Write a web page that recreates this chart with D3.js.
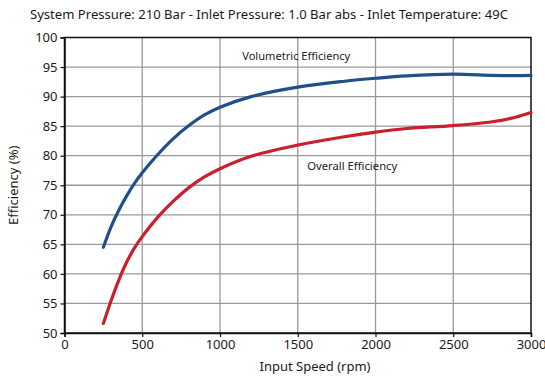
<!DOCTYPE html>
<html><head><meta charset="utf-8">
<script src="https://cdn.jsdelivr.net/npm/d3@7"></script>
<style>body{margin:0;background:#fff}svg{display:block}text{font-family:"Noto Sans",sans-serif;fill:#1a1a1a}</style>
</head><body>
<svg id="c" width="545" height="378"></svg>
<script>
const titleText = "System Pressure: 210 Bar - Inlet Pressure: 1.0 Bar abs - Inlet Temperature: 49C";
const xLabel = "Input Speed (rpm)";
const yLabel = "Efficiency (%)";
const speeds     = [250, 300, 350, 400, 450, 500, 600, 700, 800, 900, 1000, 1200, 1500, 1800, 2000, 2200, 2500, 2750, 2900, 3000];
const volumetric = [64.5, 68.0, 70.8, 73.2, 75.3, 77.1, 80.2, 82.9, 85.1, 86.9, 88.2, 90.0, 91.6, 92.6, 93.1, 93.5, 93.8, 93.6, 93.55, 93.6];
const overall    = [51.6, 55.5, 59.0, 62.0, 64.4, 66.3, 69.6, 72.3, 74.6, 76.4, 77.8, 79.9, 81.8, 83.2, 84.0, 84.6, 85.1, 85.75, 86.5, 87.3];
const seriesNames = ["Volumetric Efficiency", "Overall Efficiency"];
const xTicks = [0, 500, 1000, 1500, 2000, 2500, 3000];
const yTicks = [50, 55, 60, 65, 70, 75, 80, 85, 90, 95, 100];

const svg = d3.select("#c");
const m = {l: 64.5, r: 531, t: 37.5, b: 333};
const x = d3.scaleLinear().domain([0, 3000]).range([m.l, m.r]);
const y = d3.scaleLinear().domain([50, 100]).range([m.b, m.t]);

// grid
svg.append("g").selectAll("line").data(yTicks.slice(1, -1)).join("line")
  .attr("x1", m.l).attr("x2", m.r).attr("y1", d => y(d)).attr("y2", d => y(d))
  .attr("stroke", "#9a9a9a").attr("stroke-width", 1.3);
svg.append("g").selectAll("line").data(xTicks.slice(1, -1)).join("line")
  .attr("y1", m.t).attr("y2", m.b).attr("x1", d => x(d)).attr("x2", d => x(d))
  .attr("stroke", "#9a9a9a").attr("stroke-width", 1.3);

// frame
svg.append("rect").attr("x", m.l).attr("y", m.t).attr("width", m.r - m.l).attr("height", m.b - m.t)
  .attr("fill", "none").attr("stroke", "#111").attr("stroke-width", 1.5);

// axes
const xa = svg.append("g").attr("transform", `translate(0,${m.b})`)
  .call(d3.axisBottom(x).tickValues(xTicks).tickSize(4).tickPadding(3).tickFormat(d3.format("d")));
const ya = svg.append("g").attr("transform", `translate(${m.l},0)`)
  .call(d3.axisLeft(y).tickValues(yTicks).tickSize(4).tickPadding(3).tickFormat(d3.format("d")));
[xa, ya].forEach(a => {
  a.select(".domain").attr("stroke", "#111").attr("stroke-width", 1.5);
  a.selectAll(".tick line").attr("stroke", "#111").attr("stroke-width", 1.2);
  a.selectAll("text").attr("font-size", 13).attr("font-family", "Noto Sans").attr("fill", "#1a1a1a");
});

// lines
const line = d3.line().x(d => x(d[0])).y(d => y(d[1])).curve(d3.curveCatmullRom.alpha(0.5));
const colors = ["#214f8a", "#c8202c"];
[volumetric, overall].forEach((vals, i) => {
  svg.append("path").datum(speeds.map((s, j) => [s, vals[j]]))
    .attr("d", line).attr("fill", "none").attr("stroke", colors[i])
    .attr("stroke-width", 3.2).attr("stroke-linecap", "round");
});

// annotations
svg.append("text").attr("x", x(1143)).attr("y", y(96.2)).attr("font-size", 11)
  .attr("textLength", 108).attr("lengthAdjust", "spacingAndGlyphs").text(seriesNames[0]);
svg.append("text").attr("x", x(1561)).attr("y", y(77.6)).attr("font-size", 11)
  .attr("textLength", 90).attr("lengthAdjust", "spacingAndGlyphs").text(seriesNames[1]);

// titles
svg.append("text").attr("x", 30).attr("y", 19).attr("font-size", 13)
  .attr("textLength", 478).attr("lengthAdjust", "spacingAndGlyphs").text(titleText);
svg.append("text").attr("x", 315).attr("y", 371).attr("text-anchor", "middle").attr("font-size", 13).text(xLabel);
svg.append("text").attr("transform", `translate(18,${y(75)}) rotate(-90)`).attr("text-anchor", "middle").attr("font-size", 13).text(yLabel);
</script>
</body></html>
